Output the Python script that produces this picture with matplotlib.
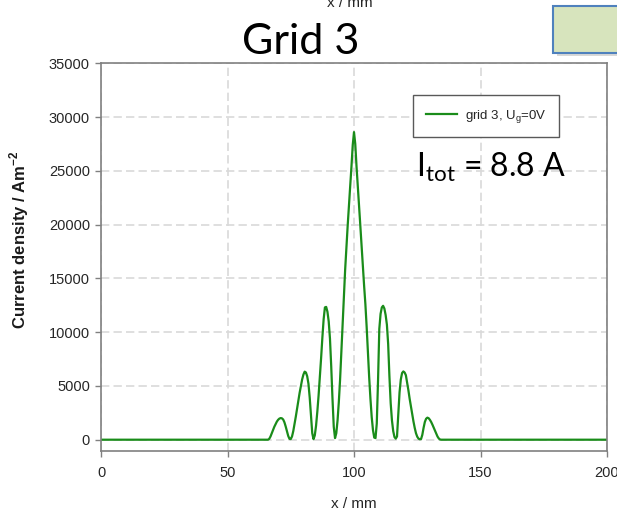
import numpy as np
import matplotlib
matplotlib.use("Agg")
import matplotlib.pyplot as plt
from matplotlib.patches import Rectangle

plt.rcParams['font.family'] = ['Liberation Sans', 'DejaVu Sans']
plt.rcParams['mathtext.fontset'] = 'custom'
plt.rcParams['mathtext.rm'] = 'Lato'
plt.rcParams['mathtext.sf'] = 'Liberation Sans'
plt.rcParams['mathtext.bf'] = 'Liberation Sans:bold'

# current density profile, 0.5 mm steps from 65.5 to 134.5 mm
x_start, x_stop, x_step = 65.5, 134.5, 0.5
j_left = [0, 0, 80, 300, 600, 900, 1200, 1450, 1680,
          1850, 1960, 2010, 1990, 1880, 1620, 1230, 780, 350, 80,
          60, 300, 800, 1450, 2150, 2900, 3650, 4350, 5000, 5600,
          6050, 6330, 6250, 5900, 5200, 3900, 2200, 600, 50, 400,
          1300, 2600, 4100, 5800, 7600, 9500, 11200, 12300, 12350, 11900,
          11000, 9400, 6800, 3800, 1200, 150, 600, 1800, 3500, 5600,
          8200, 11000, 13600, 15800, 17900, 19900, 21800, 23600, 25400, 27400,
          28600]
j_right = [27500, 25400, 23600, 21800, 19900, 18000, 16100, 14300, 12600,
           10500, 8100, 5800, 3800, 2100, 900, 200, 150, 1500, 5500,
           10300, 11700, 12300, 12450, 12200, 11600, 10700, 8900, 5900, 3400,
           1800, 800, 250, 100, 300, 2300, 4400, 5600, 6200, 6350,
           6250, 6000, 5300, 4600, 3800, 3100, 2400, 1700, 1100, 600,
           280, 100, 40, 60, 450, 1100, 1650, 1950, 2050, 2000,
           1850, 1650, 1400, 1120, 830, 550, 300, 120, 20, 0]

x_ticks = [0, 50, 100, 150, 200]
y_ticks = [0, 5000, 10000, 15000, 20000, 25000, 30000, 35000]
series_label = r'grid 3, U$_{\mathsf{g}}$=0V'

x_mid = np.arange(x_start, x_stop + x_step / 2, x_step)
x = np.concatenate([[0], x_mid, [200]])
j = np.concatenate([[0], j_left, j_right, [0]])

W, H = 617, 512
fig = plt.figure(figsize=(W / 100, H / 100), dpi=100)
ax = fig.add_axes([101 / W, 1 - 451 / H, 506 / W, (451 - 63.3) / H])

ax.plot(x, j, color='#1a8c1a', lw=1.6, label=series_label)

ax.set_xlim(0, 200)
ax.set_ylim(-1050, 35000)
ax.set_xticks(x_ticks)
ax.set_yticks(y_ticks)
ax.set_axisbelow(True)
ax.grid(True, color='#d9d9d9', linestyle=(0, (5, 2.5)), linewidth=1.2)
for s in ax.spines.values():
    s.set_color('#808080')
    s.set_linewidth(1.2)
ax.tick_params(direction='out', length=4.5, width=1, color='#808080',
               labelsize=10.5, labelcolor='#262626')
ax.tick_params(axis='x', pad=6.5)
ax.tick_params(axis='y', pad=3.5)

leg = ax.legend(loc='upper left', bbox_to_anchor=(0.6166, 0.9175), fontsize=9.5,
                fancybox=False, edgecolor='#595959', framealpha=1,
                handlelength=2.4, handletextpad=0.6, borderpad=0.95,
                borderaxespad=0)
leg.get_frame().set_linewidth(1.0)
for t in leg.get_texts():
    t.set_color('#262626')

fig.text(354 / W, 1 - 508 / H, 'x / mm', ha='center', va='baseline',
         fontsize=11, color='#262626')
fig.text(350 / W, 1 - 7 / H, 'x / mm', ha='center', va='baseline',
         fontsize=11, color='#262626')
fig.text(19 / W, 1 - 240 / H, r'Current density / Am$^{\mathbf{-2}}$',
         rotation=90, ha='center', va='center', fontsize=12,
         fontweight='bold', color='#1a1a1a')

fig.text(300.5 / W, 1 - 53.5 / H, 'Grid 3', ha='center', va='baseline',
         fontsize=31, family='Lato', color='black')
fig.text(416 / W, 1 - 176.7 / H, r'I$_{\mathrm{tot}}$ = 8.8 A', ha='left',
         va='baseline', fontsize=23, family='Lato', color='black')

# green placeholder box in the corner of the slide
fig.patches.append(Rectangle((557 / W, 1 - 56 / H), 70 / W, 47 / H,
                             transform=fig.transFigure, facecolor='#7f7f7f',
                             alpha=0.3, edgecolor='none', zorder=1))
fig.patches.append(Rectangle((553 / W, 1 - 53 / H), 70 / W, 47 / H,
                             transform=fig.transFigure, facecolor='#d7e4bd',
                             edgecolor='#4f81bd', lw=1.5, zorder=2))

fig.savefig('out.png', dpi=100, facecolor='white')
